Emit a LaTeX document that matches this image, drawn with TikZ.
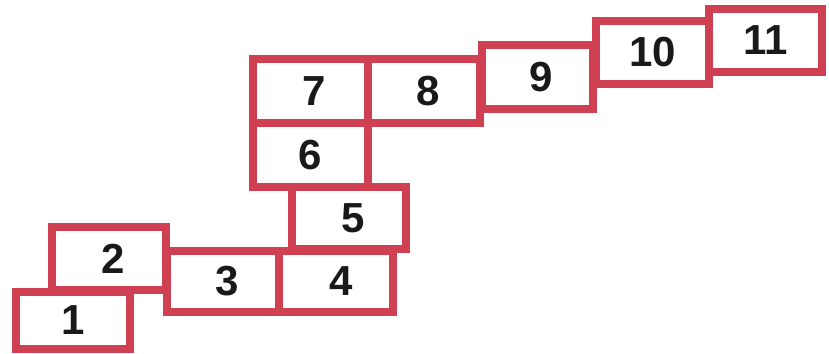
\documentclass[tikz,border=0pt]{standalone}
\usepackage{fontspec}
\setmainfont{Liberation Sans}
\definecolor{boxred}{RGB}{206,64,82}
\begin{document}
\begin{tikzpicture}[x=1pt,y=-1pt,
  cell/.style={draw=boxred, line width=8pt, fill=white, inner sep=0pt, outer sep=0pt,
    font=\fontsize{42}{42}\selectfont\bfseries, text=black!90}]
\useasboundingbox (0,0) rectangle (829,353);
\node[cell, minimum width=114pt, minimum height=57pt] (b1) at (73,320.5) {1};
\node[cell, minimum width=114pt, minimum height=63pt] (b2) at (109,258.5) {\kern9pt 2};
\node[cell, minimum width=112pt, minimum height=61pt] (b3) at (223,281.5) {\kern8pt 3};
\node[cell, minimum width=114pt, minimum height=61pt] (b4) at (336,281.5) {\kern10pt 4};
\node[cell, minimum width=114pt, minimum height=62pt] (b5) at (349,218) {\kern8pt 5};
\node[cell, minimum width=115pt, minimum height=64pt] (b6) at (310.5,155) {6};
\node[cell, minimum width=115pt, minimum height=64pt] (b7) at (310.5,91) {\kern8pt 7};
\node[cell, minimum width=112pt, minimum height=64pt] (b8) at (424,91) {\kern8pt 8};
\node[cell, minimum width=111pt, minimum height=64pt] (b9) at (537.5,77) {\kern8pt 9};
\node[cell, minimum width=113pt, minimum height=63pt] (b10) at (652.5,52.5) {10};
\node[cell, minimum width=113pt, minimum height=63pt] (b11) at (765.5,40.5) {11};
\end{tikzpicture}
\end{document}
